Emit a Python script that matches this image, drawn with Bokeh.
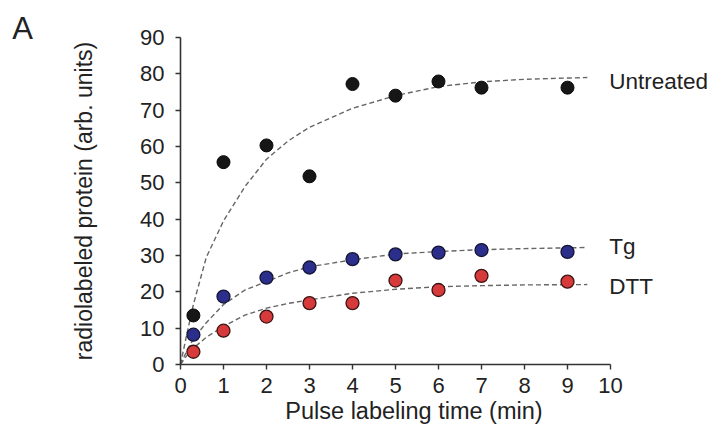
from bokeh.plotting import figure
from bokeh.models import Range1d, Label, FixedTicker
from bokeh.core.properties import value
from bokeh.embed import file_html
from bokeh.resources import INLINE

# ---- data ----
time_min = [0.3, 1, 2, 3, 4, 5, 6, 7, 9]
untreated = [13.5, 55.7, 60.3, 51.8, 77.2, 74.0, 77.9, 76.2, 76.2]
tg = [8.2, 18.7, 23.9, 26.7, 29.0, 30.3, 30.8, 31.5, 31.0]
dtt = [3.5, 9.3, 13.2, 16.9, 16.9, 23.1, 20.5, 24.4, 22.8]

# dashed fit curves
fit_t = [0, 0.15, 0.3, 0.6, 1, 1.5, 2, 2.5, 3, 4, 5, 6, 7, 8, 9.46]
untreated_fit = [0, 8.5, 16.5, 29.5, 39.5, 49, 56.5, 61.5, 65.3, 70.5, 74, 76.5, 77.8, 78.5, 79]
tg_fit = [0, 3.8, 7, 11.5, 16.5, 20.5, 22.8, 25.2, 26.9, 28.8, 30.4, 31.1, 31.6, 31.9, 32.2]
dtt_fit = [0, 2.5, 4.5, 7.5, 10.5, 13.6, 15.5, 16.8, 17.8, 19.6, 20.7, 21.4, 21.7, 21.9, 22.0]

series_names = ["Untreated", "Tg", "DTT"]
name_y = [77.9, 32.4, 21.4]
name_x = 9.97

x_ticks = [0, 1, 2, 3, 4, 5, 6, 7, 8, 9, 10]
y_ticks = [0, 10, 20, 30, 40, 50, 60, 70, 80, 90]
x_title = "Pulse labeling time (min)"
y_title = "radiolabeled protein (arb. units)"

FONT = "Liberation Sans"
TXT = "#222222"

p = figure(width=707, height=426, output_backend="svg", toolbar_location=None,
           x_range=Range1d(-4.186, 12.256), y_range=Range1d(-17.07, 100.19),
           min_border_left=0, min_border_right=0, min_border_top=0,
           min_border_bottom=0)
p.background_fill_color = "white"
p.border_fill_color = "white"
p.outline_line_color = None
p.grid.visible = False

p.xaxis.bounds = (0, 10)
p.yaxis.bounds = (0, 90)
p.xaxis.fixed_location = 0
p.yaxis.fixed_location = 0
p.xaxis.ticker = FixedTicker(ticks=x_ticks)
p.yaxis.ticker = FixedTicker(ticks=y_ticks)
for ax in (p.xaxis[0], p.yaxis[0]):
    ax.axis_line_color = "#333333"
    ax.axis_line_width = 1.6
    ax.major_tick_line_color = "#333333"
    ax.major_tick_line_width = 1.4
    ax.major_tick_out = 5
    ax.major_tick_in = 0
    ax.minor_tick_line_color = None
    ax.major_label_text_font = FONT
    ax.major_label_text_font_size = "22px"
    ax.major_label_text_color = TXT
    ax.axis_label_text_font = FONT
    ax.axis_label_text_font_size = "23px"
    ax.axis_label_text_font_style = "normal"
    ax.axis_label_text_color = TXT

p.yaxis.axis_label = y_title
p.xaxis.major_label_standoff = 9
p.yaxis.major_label_standoff = 11
p.yaxis.axis_label_standoff = 40

# x-axis title, centred where the reference puts it
p.add_layout(Label(x=5.43, y=-12.94, text=x_title, text_font=FONT, text_font_size="23.5px",
                   text_color=TXT, text_baseline="middle", text_align="center"))

# fit curves
for fy in (untreated_fit, tg_fit, dtt_fit):
    p.line(fit_t, fy, line_color="#666666", line_width=1.4, line_dash="5 3")

# points
p.scatter(time_min, untreated, size=13, fill_color="#161616", line_color="#0a0a0a", line_width=1)
p.scatter(time_min, tg, size=13, fill_color="#2c2e8c", line_color="#141433", line_width=1.3)
p.scatter(time_min, dtt, size=13, fill_color="#d63a3a", line_color="#3a1414", line_width=1.3)

# series names
p.text(x=[name_x] * 3, y=name_y, text=series_names, text_font=value(FONT),
       text_font_size="22.5px", text_baseline="middle", text_align="left", text_color=TXT)

# panel letter
p.add_layout(Label(x=-3.91, y=92.35, text="A", text_font=FONT, text_font_size="31px",
                   text_color=TXT, text_baseline="alphabetic", text_align="left"))

open("out.html", "w").write(file_html(p, INLINE))
